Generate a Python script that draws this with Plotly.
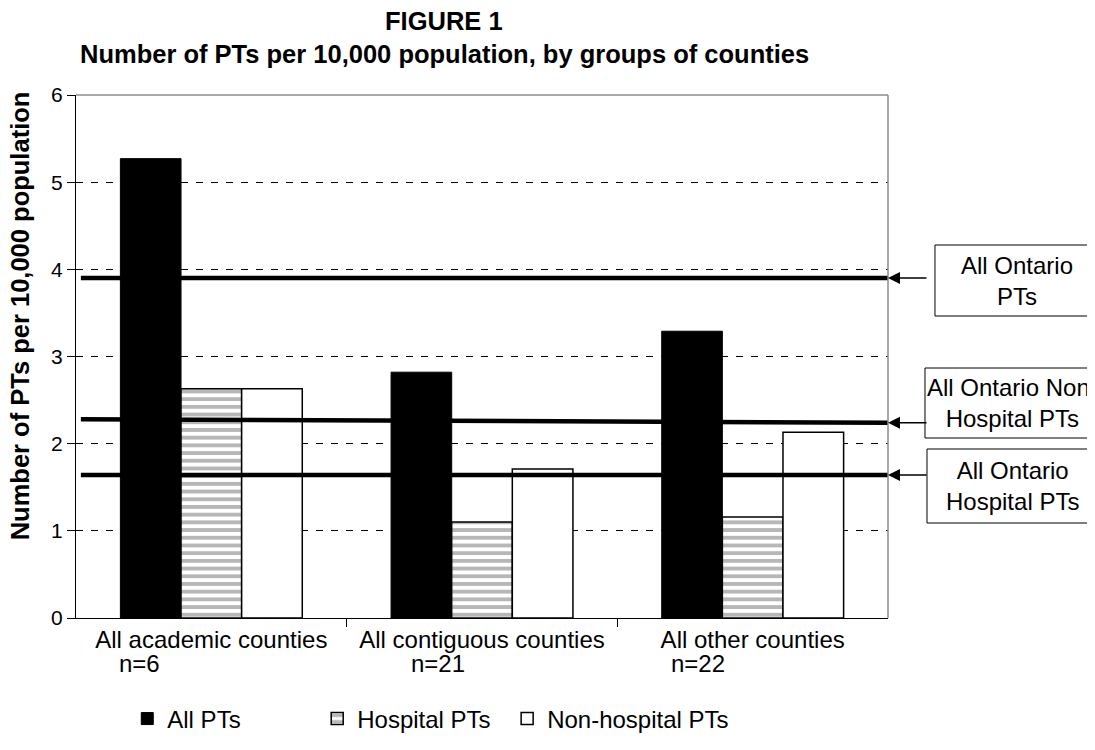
import plotly.graph_objects as go

# ---------------- data ----------------
categories = ["All academic counties", "All contiguous counties", "All other counties"]
n_labels = ["n=6", "n=21", "n=22"]
all_pts = [5.27, 2.82, 3.29]
hospital_pts = [2.63, 1.10, 1.16]
nonhospital_pts = [2.63, 1.71, 2.13]

series_names = ["All PTs", "Hospital PTs", "Non-hospital PTs"]

# reference lines (value at left end, value at right end)
ref_names = ["All Ontario<br>PTs", "All Ontario Non-<br>Hospital PTs", "All Ontario<br>Hospital PTs"]
ref_left = [3.90, 2.28, 1.64]
ref_right = [3.90, 2.24, 1.64]

y_ticks = [0, 1, 2, 3, 4, 5, 6]

title_lines = ["FIGURE 1", "Number of PTs per 10,000 population, by groups of counties"]
y_title = "Number of PTs per 10,000 population"

# ---------------- layout geometry (screen pixels) ----------------
FONT = "Liberation Sans, Arial, sans-serif"
PAGE_OFF = 8                      # default body margin of the html page
PLOT_L, PLOT_R, PLOT_T, PLOT_B = 75.7, 888.0, 95.0, 618.0
FIG_W, FIG_H = 1095 - PAGE_OFF, 750 - PAGE_OFF


def px(sx):
    return (sx - PLOT_L) / (PLOT_R - PLOT_L)


def py(sy):
    return (PLOT_B - sy) / (PLOT_B - PLOT_T)


n_label_xshift = [-72, -44, -55]
# callout boxes: left, top, bottom (screen px) ; text centre x
boxes = [(935, 245, 316), (925, 368, 438), (927, 449, 523)]
box_text_x = [1017, 1013, 1013]
legend_left = [127, 317, 507]
legend_ids = ["legend", "legend2", "legend3"]

fig = go.Figure()

fig.add_trace(go.Bar(
    x=categories, y=all_pts, name=series_names[0], legend=legend_ids[0],
    marker=dict(color="black", line=dict(color="black", width=1)),
))
fig.add_trace(go.Bar(
    x=categories, y=hospital_pts, name=series_names[1], legend=legend_ids[1],
    marker=dict(color="white", line=dict(color="black", width=1.5),
                pattern=dict(shape="-", fgcolor="#707070", bgcolor="white",
                             size=7.7, solidity=0.5, fillmode="overlay")),
))
fig.add_trace(go.Bar(
    x=categories, y=nonhospital_pts, name=series_names[2], legend=legend_ids[2],
    marker=dict(color="white", line=dict(color="black", width=1.5)),
))

# Ontario reference lines on an overlaid 0..1 axis
for yl, yr in zip(ref_left, ref_right):
    fig.add_trace(go.Scatter(
        x=[0.006, 1.0], y=[yl, yr], xaxis="x2", yaxis="y",
        mode="lines", line=dict(color="black", width=4.5),
        showlegend=False, hoverinfo="skip",
    ))

# n= labels under categories
for cat, lab, dx in zip(categories, n_labels, n_label_xshift):
    fig.add_annotation(x=cat, y=0, xref="x", yref="y", text=lab, showarrow=False,
                       xshift=dx, yshift=-30, yanchor="top",
                       font=dict(family=FONT, size=24, color="black"))

# callout boxes, texts and arrows
for (bx, bt, bb), tx, name, yr in zip(boxes, box_text_x, ref_names, ref_right):
    fig.add_shape(type="rect", xref="paper", yref="paper", x0=px(bx), x1=px(1120),
                  y0=py(bb), y1=py(bt),
                  line=dict(color="black", width=1), fillcolor="white", layer="above")
    fig.add_annotation(x=px(tx), y=py((bt + bb) / 2), xref="paper", yref="paper", text=name,
                       showarrow=False, xanchor="center", yanchor="middle",
                       font=dict(family=FONT, size=24, color="black"))
    fig.add_annotation(x=1.0, y=yr, xref="x2", yref="y", text="", showarrow=True,
                       ax=40, ay=0, arrowhead=2, arrowsize=1.6, arrowwidth=1.5,
                       arrowcolor="black", standoff=0)

# title lines
for line, sy in zip(title_lines, [21, 54]):
    fig.add_annotation(x=px(444), y=py(sy), xref="paper", yref="paper",
                       text="<b>" + line + "</b>", showarrow=False,
                       xanchor="center", yanchor="middle",
                       font=dict(family=FONT, size=25.5, color="black"))

# y-axis title
fig.add_annotation(x=px(20), y=py(316), xref="paper", yref="paper",
                   text="<b>" + y_title + "</b>", textangle=-90, showarrow=False,
                   xanchor="center", yanchor="middle",
                   font=dict(family=FONT, size=25.5, color="black"))

# gray top and right border
fig.add_shape(type="line", xref="paper", yref="paper", x0=0, x1=1, y0=1, y1=1,
              line=dict(color="#8c8c8c", width=1.5))
fig.add_shape(type="line", xref="paper", yref="paper", x0=1, x1=1, y0=0, y1=1,
              line=dict(color="#8c8c8c", width=1.5))

legend_common = dict(orientation="h", xanchor="left", y=-0.15, yanchor="top",
                     font=dict(family=FONT, size=24, color="black"),
                     bgcolor="rgba(0,0,0,0)")

fig.update_layout(
    width=FIG_W, height=FIG_H,
    margin=dict(l=PLOT_L - PAGE_OFF, r=FIG_W - (PLOT_R - PAGE_OFF),
                t=PLOT_T - PAGE_OFF, b=FIG_H - (PLOT_B - PAGE_OFF), autoexpand=False),
    paper_bgcolor="white", plot_bgcolor="white",
    barmode="group", bargap=0.328, bargroupgap=0,
    font=dict(family=FONT, size=24, color="black"),
    xaxis=dict(
        type="category", showline=True, linecolor="black", linewidth=1.2,
        ticks="", showgrid=False, automargin=False,
        tickfont=dict(family=FONT, size=24, color="black"),
    ),
    xaxis2=dict(overlaying="x", range=[0, 1], side="bottom", anchor="y",
                showline=False, showgrid=False, zeroline=False,
                tickvals=[1 / 3, 2 / 3], ticks="outside", ticklen=8, tickcolor="black",
                showticklabels=False, fixedrange=True),
    yaxis=dict(
        range=[0, 6], tickvals=y_ticks, showline=True, linecolor="black", linewidth=1.2,
        ticks="outside", ticklen=8, tickcolor="black", automargin=False,
        showgrid=True, gridcolor="black", gridwidth=1, griddash="7px,8px",
        zeroline=False,
        tickfont=dict(family=FONT, size=21, color="black"),
    ),
    legend=dict(x=px(legend_left[0]), **legend_common),
    legend2=dict(x=px(legend_left[1]), **legend_common),
    legend3=dict(x=px(legend_left[2]), **legend_common),
    showlegend=True,
)

fig.write_html("out.html")
